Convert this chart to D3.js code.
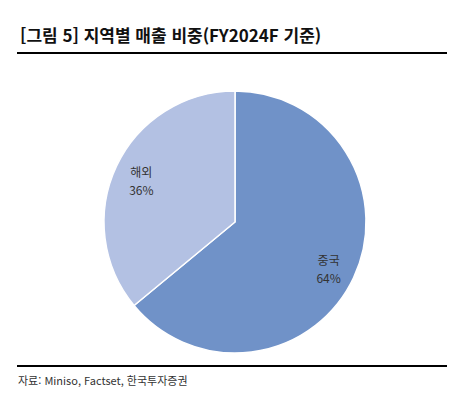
<!DOCTYPE html>
<html lang="ko">
  <head>
    <meta charset="UTF-8" />
    <title>지역별 매출 비중</title>
    <script src="https://cdn.jsdelivr.net/npm/d3@7"></script>
    <style>
      html,
      body {
        margin: 0;
        padding: 0;
        background: #fff;
      }
      text {
        font-family: 'Noto Sans CJK KR', 'Noto Sans', sans-serif;
      }
    </style>
  </head>
  <body>
    <script>
      const regions = ['중국', '해외'];
      const shares = [64, 36];
      const colors = ['#7092c8', '#b3c1e3'];

      const width = 471,
        height = 396;
      const cx = 235,
        cy = 222,
        radius = 131;

      const svg = d3
        .select('body')
        .append('svg')
        .attr('width', width)
        .attr('height', height);

      svg
        .append('text')
        .attr('x', 20)
        .attr('y', 42)
        .style('font-size', '17px')
        .style('font-weight', 'bold')
        .style('fill', '#111')
        .text('[그림 5] 지역별 매출 비중(FY2024F 기준)');

      svg
        .append('line')
        .attr('x1', 17)
        .attr('x2', 447)
        .attr('y1', 53)
        .attr('y2', 53)
        .style('stroke', '#000')
        .style('stroke-width', 2);

      const data = regions.map((r, i) => ({ region: r, value: shares[i], color: colors[i] }));

      const pie = d3
        .pie()
        .sort(null)
        .value(d => d.value);

      const arc = d3.arc().innerRadius(0).outerRadius(radius);
      // labels sit a bit further out than the usual centroid
      const labelArc = d3
        .arc()
        .innerRadius(radius * 0.79)
        .outerRadius(radius * 0.79);

      const g = svg.append('g').attr('transform', `translate(${cx}, ${cy})`);

      const slices = g.selectAll('g.slice').data(pie(data)).join('g').attr('class', 'slice');

      slices
        .append('path')
        .attr('d', arc)
        .style('fill', d => d.data.color)
        .style('stroke', '#fff')
        .style('stroke-width', 1.5);

      const labels = slices
        .append('text')
        .attr('transform', d => `translate(${labelArc.centroid(d)})`)
        .attr('text-anchor', 'middle')
        .style('font-size', '12px')
        .style('fill', '#333');

      labels
        .append('tspan')
        .attr('x', 0)
        .attr('dy', '-0.1em')
        .text(d => d.data.region);

      labels
        .append('tspan')
        .attr('x', 0)
        .attr('dy', '1.5em')
        .text(d => d.data.value + '%');

      svg
        .append('line')
        .attr('x1', 17)
        .attr('x2', 447)
        .attr('y1', 366)
        .attr('y2', 366)
        .style('stroke', '#000')
        .style('stroke-width', 2);

      svg
        .append('text')
        .attr('x', 18)
        .attr('y', 385)
        .style('font-size', '11px')
        .style('fill', '#333')
        .text('자료: Miniso, Factset, 한국투자증권');
    </script>
  </body>
</html>
